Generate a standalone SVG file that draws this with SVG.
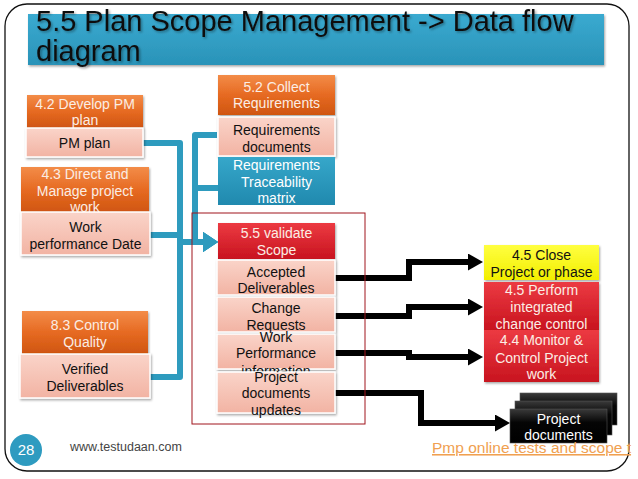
<svg xmlns="http://www.w3.org/2000/svg" width="638" height="479" viewBox="0 0 638 479">
<defs>
<linearGradient id="gOr" x1="0" y1="0" x2="0" y2="1"><stop offset="0" stop-color="#F38C48"/><stop offset="0.5" stop-color="#E66A22"/><stop offset="1" stop-color="#CF5510"/></linearGradient>
<linearGradient id="gPk" x1="0" y1="0" x2="0" y2="1"><stop offset="0" stop-color="#FAD4C9"/><stop offset="1" stop-color="#F2B3A3"/></linearGradient>
<linearGradient id="gRd" x1="0" y1="0" x2="0" y2="1"><stop offset="0" stop-color="#EC3A42"/><stop offset="1" stop-color="#C8141F"/></linearGradient>
<linearGradient id="gBl" x1="0" y1="0" x2="0" y2="1"><stop offset="0" stop-color="#36A7CA"/><stop offset="1" stop-color="#2089AE"/></linearGradient>
<linearGradient id="gTi" x1="0" y1="0" x2="0" y2="1"><stop offset="0" stop-color="#3AAAD0"/><stop offset="1" stop-color="#2A93B8"/></linearGradient>
<linearGradient id="gYe" x1="0" y1="0" x2="0" y2="1"><stop offset="0" stop-color="#FFFF40"/><stop offset="1" stop-color="#F2EE00"/></linearGradient>
<linearGradient id="gBk" x1="0" y1="0" x2="0" y2="1"><stop offset="0" stop-color="#3A3A3A"/><stop offset="0.4" stop-color="#050505"/><stop offset="1" stop-color="#000"/></linearGradient>
<filter id="sh" x="-10%" y="-10%" width="130%" height="140%"><feDropShadow dx="1" dy="1.5" stdDeviation="1.2" flood-color="#000" flood-opacity="0.35"/></filter>
<filter id="tsh" x="-5%" y="-20%" width="110%" height="150%"><feDropShadow dx="1.5" dy="1.5" stdDeviation="1" flood-color="#000" flood-opacity="0.35"/></filter>
<marker id="ab" markerUnits="userSpaceOnUse" markerWidth="16" markerHeight="22" refX="1" refY="10" orient="auto"><path d="M0,0 L15,10 L0,20 z" fill="#2E9BBE"/></marker>
<marker id="ak" markerUnits="userSpaceOnUse" markerWidth="16" markerHeight="18" refX="1" refY="8.5" orient="auto"><path d="M0,0 L15,8.5 L0,17 z" fill="#000"/></marker>
</defs>
<style>
text{font-family:"Liberation Sans",Arial,sans-serif;font-size:14px;text-anchor:middle}
.or{fill:url(#gOr);filter:url(#sh)}
.pk{fill:url(#gPk);stroke:#fff;stroke-width:1.5;filter:url(#sh)}
.rd{fill:url(#gRd);filter:url(#sh)}
.bl{fill:url(#gBl)}
.ye{fill:url(#gYe);filter:url(#sh)}
.bk{fill:url(#gBk);stroke:#555;stroke-width:0.6}
.wt{fill:#FBEDE4}
.dk{fill:#111}
.cb{fill:none;stroke:#2E9BBE;stroke-width:6;stroke-linejoin:round}
.ck{fill:none;stroke:#000;stroke-width:6;stroke-linejoin:miter}
</style>
<rect width="638" height="479" fill="#fff"/>
<rect x="5" y="4" width="624" height="467" rx="22" ry="22" fill="none" stroke="#111" stroke-width="1.3"/>

<g id="title">
<rect x="28" y="14" width="576" height="51" fill="url(#gTi)" filter="url(#sh)"/>
<text x="36" y="31" style="font-size:29px;text-anchor:start" fill="#111" filter="url(#tsh)">5.5 Plan Scope Management -&gt; Data flow</text>
<text x="36" y="61" style="font-size:29px;text-anchor:start" fill="#111" filter="url(#tsh)">diagram</text>
</g>

<g id="connectors">
<path class="cb" d="M143,143 H180 V242 H204" marker-end="url(#ab)"/>
<path class="cb" d="M150,235 H180 V242 H204" marker-end="url(#ab)"/>
<path class="cb" d="M150,377 H180 V242 H204" marker-end="url(#ab)"/>
<path class="cb" d="M217,135 H195 V242 H204" marker-end="url(#ab)"/>
<path class="cb" d="M218,188 H195 V242"/>
<path class="ck" d="M335,278 H409 V262 H469" marker-end="url(#ak)"/>
<path class="ck" d="M335,316 H409 V307 H469" marker-end="url(#ak)"/>
<path class="ck" d="M335,353 H409 V357 H469" marker-end="url(#ak)"/>
<path class="ck" d="M335,393 H421 V423 H496" marker-end="url(#ak)"/>
</g>

<g id="n42">
<rect class="or" x="27" y="95" width="116" height="33"/>
<text class="wt" x="85" y="109">4.2 Develop PM</text>
<text class="wt" x="85" y="125">plan</text>
<rect class="pk" x="26" y="128" width="117" height="29"/>
<text class="dk" x="84.5" y="148">PM plan</text>
</g>

<g id="n43">
<rect class="or" x="21" y="167" width="128" height="46"/>
<text class="wt" x="85" y="179">4.3 Direct and</text>
<text class="wt" x="85" y="196">Manage project</text>
<text class="wt" x="85" y="212">work</text>
<rect class="pk" x="21" y="212" width="129" height="43"/>
<text class="dk" x="85.5" y="232">Work</text>
<text class="dk" x="85.5" y="249">performance Date</text>
</g>

<g id="n83">
<rect class="or" x="22" y="311" width="126" height="43"/>
<text class="wt" x="85" y="330">8.3 Control</text>
<text class="wt" x="85" y="347">Quality</text>
<rect class="pk" x="20" y="354" width="130" height="44"/>
<text class="dk" x="85" y="374">Verified</text>
<text class="dk" x="85" y="391">Deliverables</text>
</g>

<g id="n52">
<rect class="or" x="218" y="75" width="117" height="40"/>
<text class="wt" x="276.5" y="92">5.2 Collect</text>
<text class="wt" x="276.5" y="108">Requirements</text>
<rect class="pk" x="218" y="117" width="117" height="39"/>
<text class="dk" x="276.5" y="135">Requirements</text>
<text class="dk" x="276.5" y="152">documents</text>
<rect class="bl" x="218" y="157" width="117" height="48"/>
<text fill="#fff" x="276.5" y="170">Requirements</text>
<text fill="#fff" x="276.5" y="187">Traceability</text>
<text fill="#fff" x="276.5" y="203">matrix</text>
</g>

<g id="n55">
<rect x="192" y="213" width="173" height="211" fill="none" stroke="#A0141C" stroke-width="1"/>
<rect class="rd" x="218" y="223" width="117" height="36"/>
<text class="wt" x="276.5" y="238">5.5 validate</text>
<text class="wt" x="276.5" y="255">Scope</text>
<rect class="pk" x="217" y="260" width="118" height="35"/>
<text class="dk" x="276" y="277">Accepted</text>
<text class="dk" x="276" y="293">Deliverables</text>
<rect class="pk" x="217" y="297" width="118" height="35"/>
<text class="dk" x="276" y="313">Change</text>
<text class="dk" x="276" y="330">Requests</text>
<rect class="pk" x="217" y="334" width="118" height="35"/>
<text class="dk" x="276" y="342">Work</text>
<text class="dk" x="276" y="358">Performance</text>
<text class="dk" x="276" y="376">information</text>
<rect class="pk" x="217" y="372" width="118" height="41"/>
<text class="dk" x="276" y="382">Project</text>
<text class="dk" x="276" y="398">documents</text>
<text class="dk" x="276" y="415">updates</text>
</g>

<g id="n45close">
<rect class="ye" x="484" y="245" width="115" height="35"/>
<text class="dk" x="541.5" y="260">4.5 Close</text>
<text class="dk" x="541.5" y="277">Project or phase</text>
</g>

<g id="n45perform">
<rect class="rd" x="484" y="282" width="115" height="48"/>
<text class="wt" x="541.5" y="295">4.5 Perform</text>
<text class="wt" x="541.5" y="312">integrated</text>
<text class="wt" x="541.5" y="329">change control</text>
</g>

<g id="n44">
<rect class="rd" x="484" y="330" width="115" height="52"/>
<text class="wt" x="541.5" y="345">4.4 Monitor &amp;</text>
<text class="wt" x="541.5" y="363">Control Project</text>
<text class="wt" x="541.5" y="379">work</text>
</g>

<g id="projdocs">
<rect class="bk" x="520" y="393" width="97" height="32"/>
<rect class="bk" x="515" y="401" width="97" height="34"/>
<rect class="bk" x="510" y="409" width="97" height="34"/>
<text fill="#fff" x="558.5" y="424">Project</text>
<text fill="#fff" x="558.5" y="440">documents</text>
</g>

<g id="footer">
<circle cx="26" cy="450" r="16" fill="#2E9BC0"/>
<text fill="#fff" x="26" y="455" style="font-size:15px">28</text>
<text fill="#444" x="70" y="451" style="font-size:12.5px;text-anchor:start">www.testudaan.com</text>
<text fill="#F0A050" x="432" y="453" style="font-size:15.5px;text-anchor:start;text-decoration:underline">Pmp online tests and scope t</text>
</g>
</svg>
